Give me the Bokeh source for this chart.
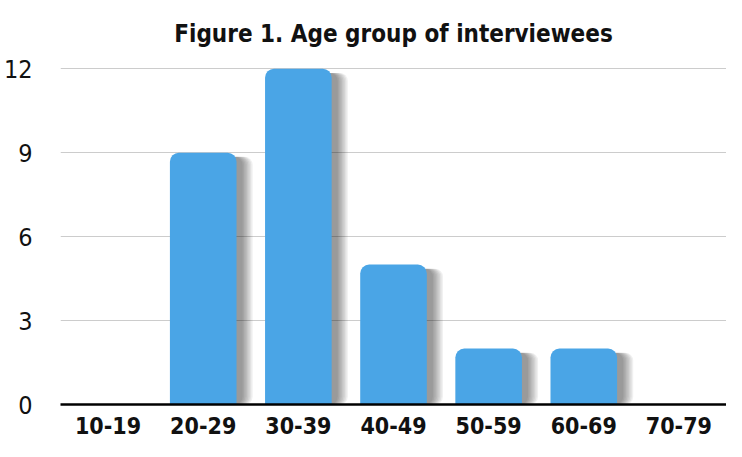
from bokeh.plotting import figure
from bokeh.models import ColumnDataSource, FixedTicker, Range1d
from bokeh.transform import dodge
from bokeh.embed import file_html
from bokeh.resources import INLINE

categories = ["10-19", "20-29", "30-39", "40-49", "50-59", "60-69", "70-79"]
counts = [0, 9, 12, 5, 2, 2, 0]
y_ticks = [0, 3, 6, 9, 12]
title_text = "Figure 1. Age group of interviewees"

FONT = "'Liberation Sans Narrow', 'DejaVu Sans Condensed', 'Arial Narrow', sans-serif"

source = ColumnDataSource(data=dict(
    cat=categories,
    count=counts,
    shadow_top=[max(c - 0.15, 0) for c in counts],
))

p = figure(
    x_range=categories,
    y_range=Range1d(0, 12.4),
    width=726, height=441,
    output_backend="svg",
    toolbar_location=None,
    title=title_text,
    min_border_left=49, min_border_right=0,
    min_border_top=57, min_border_bottom=37,
)

# soft drop shadow made of several translucent layers
for k in range(8):
    p.vbar(x=dodge("cat", 0.095, range=p.x_range), top="shadow_top", bottom=0,
           width=0.64 + 0.03 * k, source=source,
           fill_color="black", fill_alpha=0.06, line_color=None,
           border_radius=8)

p.vbar(x="cat", top="count", bottom=0, width=0.7, source=source,
       fill_color="#4aa5e6", line_color=None,
       border_radius=(9, 9, 0, 0))

p.title.align = "center"
p.title.text_font = FONT
p.title.text_font_size = "24px"
p.title.text_font_style = "bold"
p.title.text_color = "#111111"
p.title.standoff = 20

p.outline_line_color = None
p.background_fill_color = "white"
p.border_fill_color = "white"

p.xgrid.grid_line_color = None
p.ygrid.grid_line_color = "#cccccc"
p.ygrid.grid_line_width = 1
p.yaxis.ticker = FixedTicker(ticks=y_ticks)

p.yaxis.axis_line_color = None
p.yaxis.major_tick_line_color = None
p.yaxis.minor_tick_line_color = None
p.yaxis.major_label_standoff = 22
p.yaxis.major_label_text_font = FONT
p.yaxis.major_label_text_font_size = "25px"
p.yaxis.major_label_text_color = "#111111"

p.xaxis.axis_line_color = "black"
p.xaxis.axis_line_width = 2.5
p.xaxis.major_tick_line_color = None
p.xaxis.minor_tick_line_color = None
p.xaxis.major_label_standoff = 6
p.xaxis.major_label_text_font = FONT
p.xaxis.major_label_text_font_size = "23px"
p.xaxis.major_label_text_font_style = "bold"
p.xaxis.major_label_text_color = "#111111"

open("out.html", "w").write(file_html(p, INLINE))
